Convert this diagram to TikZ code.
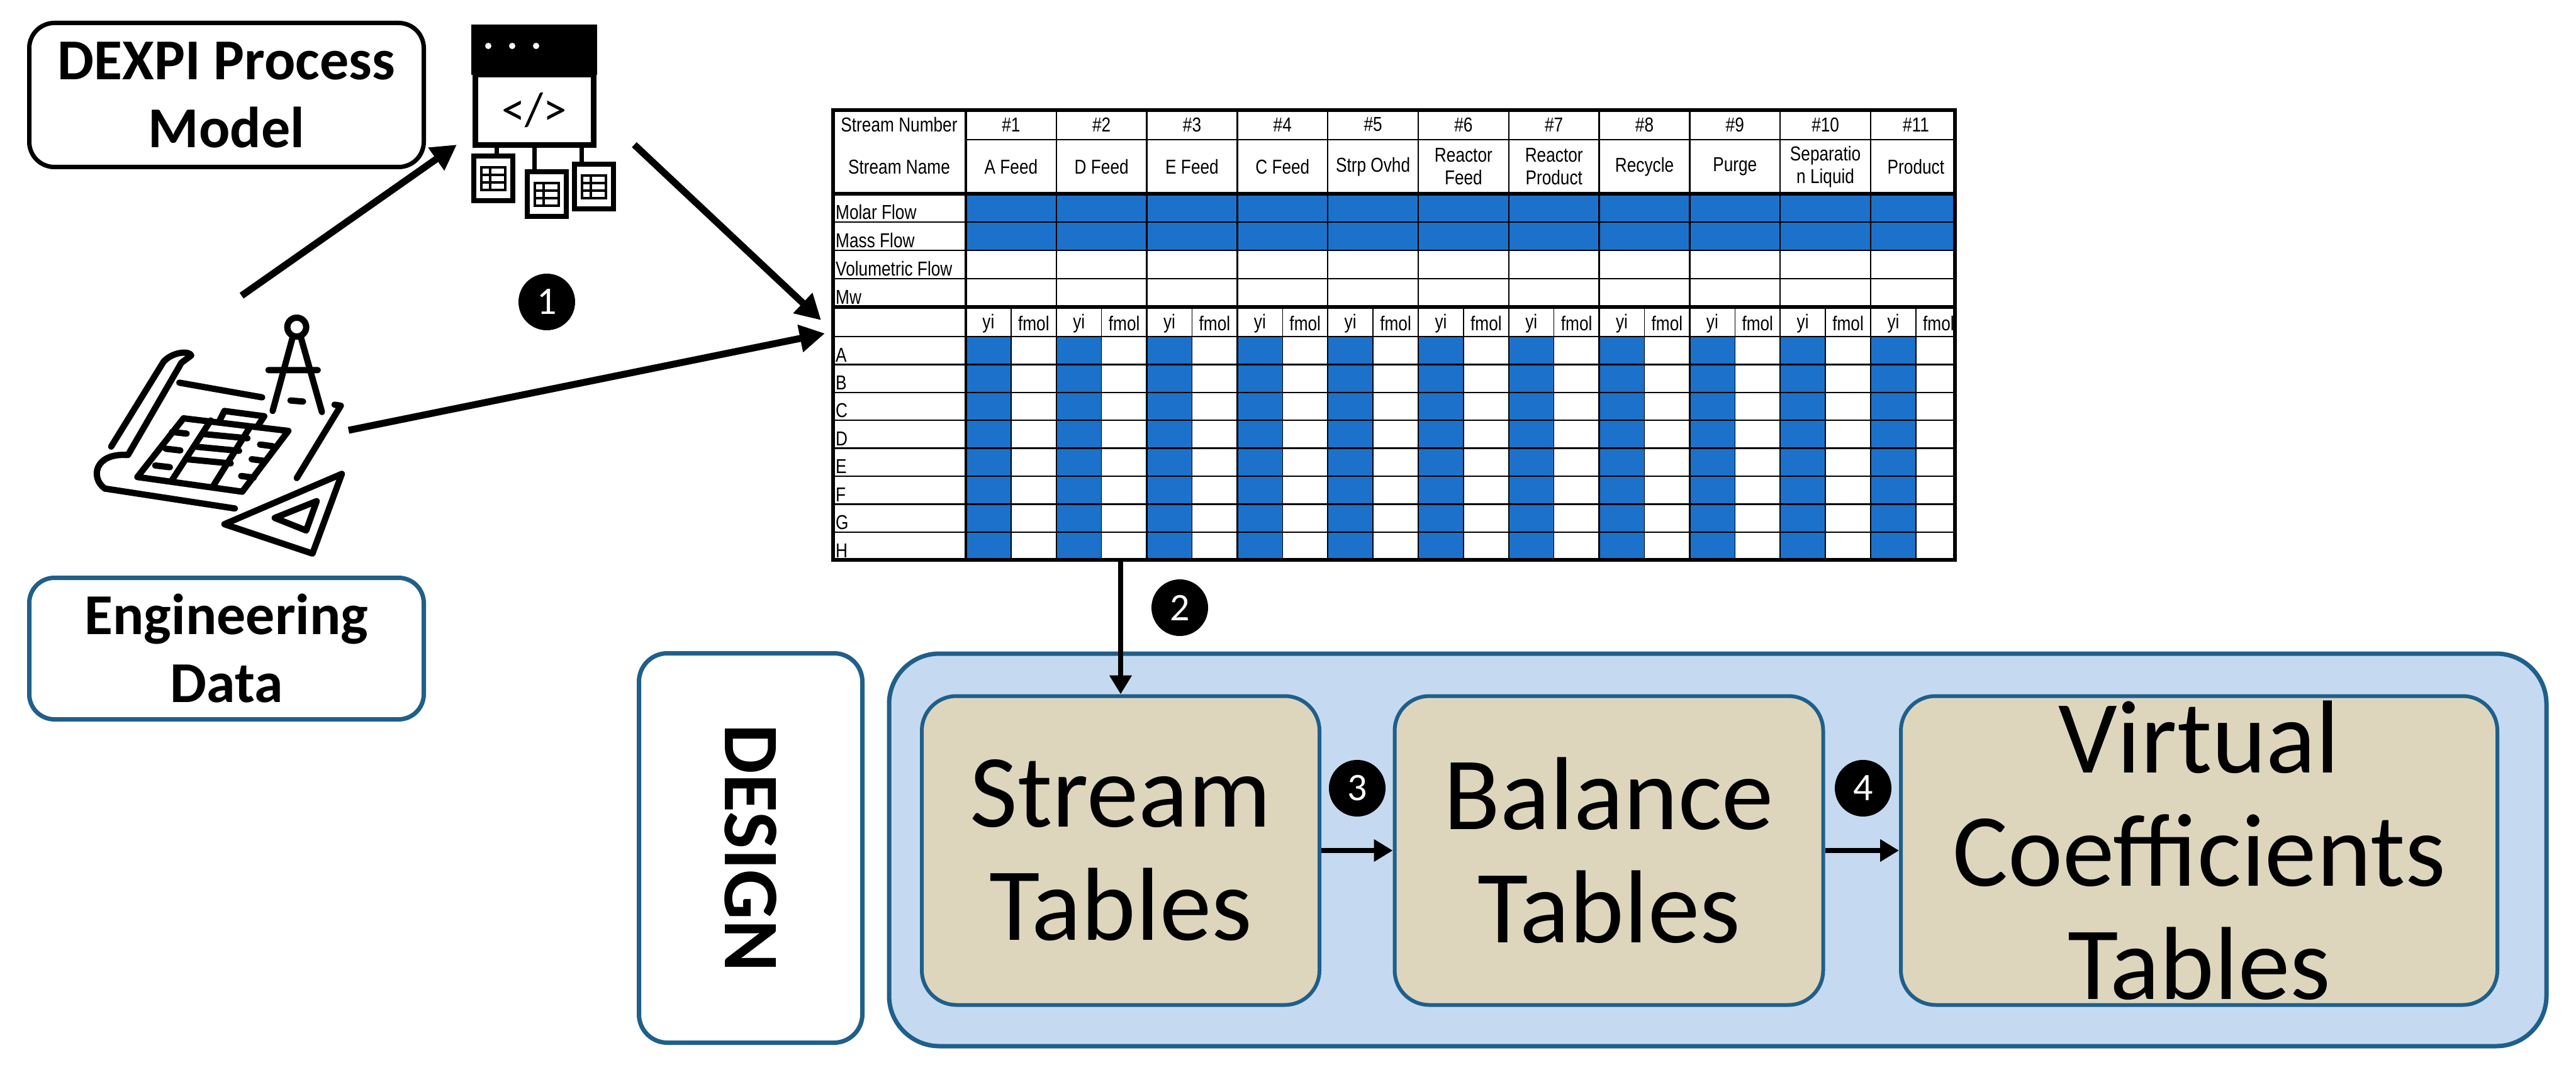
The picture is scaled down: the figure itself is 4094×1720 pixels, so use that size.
\documentclass[tikz,border=0pt]{standalone}
\usepackage{fontspec}
\setmainfont{Carlito}
\newfontfamily\tabfont{Liberation Sans}[FakeStretch=0.82]
\usetikzlibrary{arrows.meta}
\definecolor{tblue}{HTML}{1C72CB}
\definecolor{dblue}{HTML}{1F5F8B}
\definecolor{lblue}{HTML}{C5DAF0}
\definecolor{beige}{HTML}{DDD6BD}
\tikzset{
 lbl/.style={draw=black,line width=7pt,rounded corners=40pt,fill=white,align=center,font=\fontsize{92}{108}\selectfont\bfseries},
 inner/.style={draw=dblue,line width=6pt,rounded corners=55pt,fill=beige,align=center,font=\fontsize{165}{180}\selectfont},
 num/.style={circle,fill=black,text=white,minimum size=90pt,inner sep=0pt,font=\fontsize{62}{62}\selectfont},
 arr/.style={line width=11pt,-{Triangle[length=40pt,width=42pt]}},
 tc/.style={font=\tabfont\fontsize{32}{36}\selectfont,align=center,inner sep=0pt},
}
\begin{document}
\begin{tikzpicture}[x=1pt,y=-1pt]
\useasboundingbox (0,0) rectangle (4094,1720);
% label boxes
\node[lbl,minimum width=627pt,minimum height=229pt] (dexpi) at (360,151) {DEXPI Process\\Model};
\node[lbl,draw=dblue,minimum width=627pt,minimum height=225pt] (eng) at (360,1031) {Engineering\\Data};
% design
\node[draw=dblue,line width=7pt,rounded corners=45pt,fill=white,minimum width=355pt,minimum height=619pt] (design) at (1193,1348) {};
\node[rotate=-90,font=\fontsize{125}{125}\selectfont\bfseries] at (design.center) {DESIGN};
\node[draw=dblue,line width=7pt,rounded corners=80pt,fill=lblue,minimum width=2634pt,minimum height=624pt] (bigbox) at (2730,1351) {};
\node[inner,minimum width=632pt,minimum height=491pt] (st) at (1781,1352) {Stream\\Tables};
\node[inner,minimum width=681pt,minimum height=491pt] (bt) at (2557,1352) {Balance\\Tables};
\node[inner,minimum width=948pt,minimum height=491pt] (vt) at (3495,1352) {Virtual\\Coefficients\\Tables};
% table
\begin{scope}
\def\L{1324}\def\C{1535}\def\W{143.8}
\fill[tblue] (\C,308) rectangle (3107,398);
\foreach \i in {0,...,10}{\fill[tblue] (\C+\i*\W,535) rectangle (\C+\i*\W+0.5*\W,890);}
\foreach \y in {353,398,443,535,579.4,623.8,668.2,712.6,757,801.4,845.8}{\draw[line width=2.5pt] (\L,\y) -- (3107,\y);}
\draw[line width=2.5pt] (\C,222) -- (3107,222);
\foreach \i in {1,...,10}{\draw[line width=2.5pt] (\C+\i*\W,175) -- (\C+\i*\W,890);}
\foreach \i in {0,...,10}{\draw[line width=1.5pt] (\C+\i*\W+0.5*\W,488) -- (\C+\i*\W+0.5*\W,890);}
\draw[line width=4.5pt] (\C,175) -- (\C,890);
\draw[line width=6pt] (\L,308) -- (3107,308);
\draw[line width=6pt] (\L,488) -- (3107,488);
\draw[line width=6pt] (\L,175) rectangle (3107,890);
\node[tc] at (1429,198) {Stream Number};
\node[tc] at (1429,265) {Stream Name};
\foreach \t [count=\k from 0] in {Molar Flow,Mass Flow,Volumetric Flow,Mw}{\node[tc,anchor=south west] at (\L+4,353+\k*45-4) {\t};}
\foreach \t [count=\k from 0] in {A,B,C,D,E,F,G,H}{\node[tc,anchor=south west] at (\L+4,579.4+\k*44.4-4) {\t};}
\foreach \n/\t [count=\k from 0] in {1/A Feed,2/D Feed,3/E Feed,4/C Feed,5/Strp Ovhd,6/Reactor\\Feed,7/Reactor\\Product,8/Recycle,9/Purge,10/Separatio\\n Liquid,11/Product}{
 \node[tc] at (\C+\k*\W+0.5*\W,198) {\#\n};
 \node[tc] at (\C+\k*\W+0.5*\W,265) {\t};
 \node[tc] at (\C+\k*\W+0.25*\W,514) {yi};
 \node[tc] at (\C+\k*\W+0.75*\W,514) {fmol};
}
\end{scope}
\coordinate (tblL) at (1311,530);
\coordinate (tblC) at (1305,509);
\coordinate (tblB) at (1781,890);
% code icon
\begin{scope}[shift={(749,39)}]
\fill (0,0) rectangle (200,80);
\foreach \x in {27,65,103}{\fill[white] (\x,34) circle (5);}
\draw[line width=9pt] (6,80) rectangle (194,192);
\node[font=\fontsize{75}{75}\selectfont] at (100,136) {</>};
\draw[line width=7pt] (100,192) -- (100,230) (40,192) -- (40,205) (175,192)--(175,218) ;
\foreach \x/\y in {0/205,85/230,160/218}{
 \draw[line width=8pt] (\x+4,\y+4) rectangle (\x+66,\y+75);
 \draw[line width=4pt] (\x+16,\y+22) rectangle (\x+54,\y+58) (\x+16,\y+34)--(\x+54,\y+34) (\x+16,\y+46)--(\x+54,\y+46) (\x+30,\y+22)--(\x+30,\y+58);}
\end{scope}
\coordinate (codeIn) at (726,230);
\coordinate (codeOut) at (1008,230);
% blueprint icon
\begin{scope}[shift={(100,500)}]
\begin{scope}[x=0.3333pt,y=-0.3333pt,line width=10pt,line join=round,line cap=round]
\draw (230,630) -- (480,225) .. controls (520,180) and (600,170) .. (612,195) -- (565,230) -- (310,670);
\draw (305,670) .. controls (150,660) and (130,780) .. (200,830) -- (820,925);
\draw (555,325) -- (950,395);
\draw (1295,430) -- (1325,435) -- (1115,780);
\draw (355,775) -- (575,495) -- (1075,555) -- (855,845) -- cycle;
\draw (770,460) -- (960,485) -- (930,530);
\draw (770,460) -- (745,510);
\draw (705,505) -- (520,790) (890,540) -- (715,820);
\draw (670,570) -- (880,590) (630,630) -- (840,650) (590,690) -- (800,710);
\foreach \a/\b in {520/560,490/640,440/720}{\draw (\a,\b) -- (\a+70,\b+8);}
\foreach \a/\b in {940/620,900/690,850/770}{\draw (\a,\b) -- (\a+60,\b+8);}
\draw (1115,60) circle (45);
\draw (1095,110) -- (1000,460) (1135,110) -- (1235,465) (980,265) -- (1215,265) (1085,410) -- (1145,415);
\draw (770,1000) -- (1330,760) -- (1190,1140) -- cycle;
\draw (1010,970) -- (1210,890) -- (1160,1030) -- cycle;
\end{scope}
\end{scope}
\coordinate (bpA) at (384,470);
\coordinate (bpB) at (554,684);
% arrows
\draw[arr] (bpA) -- (codeIn);
\draw[arr] (codeOut) -- (tblC);
\draw[arr] (bpB) -- (tblL);
\draw[line width=8pt,-{Triangle[length=30pt,width=34pt]}] (tblB) -- (st.north);
\draw[line width=8pt,-{Triangle[length=30pt,width=34pt]}] (st.east) -- (bt.west);
\draw[line width=8pt,-{Triangle[length=30pt,width=34pt]}] (bt.east) -- (vt.west);
\node[num] (n1) at (869,480) {1};
\node[num] (n2) at (1875,966) {2};
\node[num] (n3) at (2157,1253) {3};
\node[num] (n4) at (2961,1253) {4};
\end{tikzpicture}
\end{document}
